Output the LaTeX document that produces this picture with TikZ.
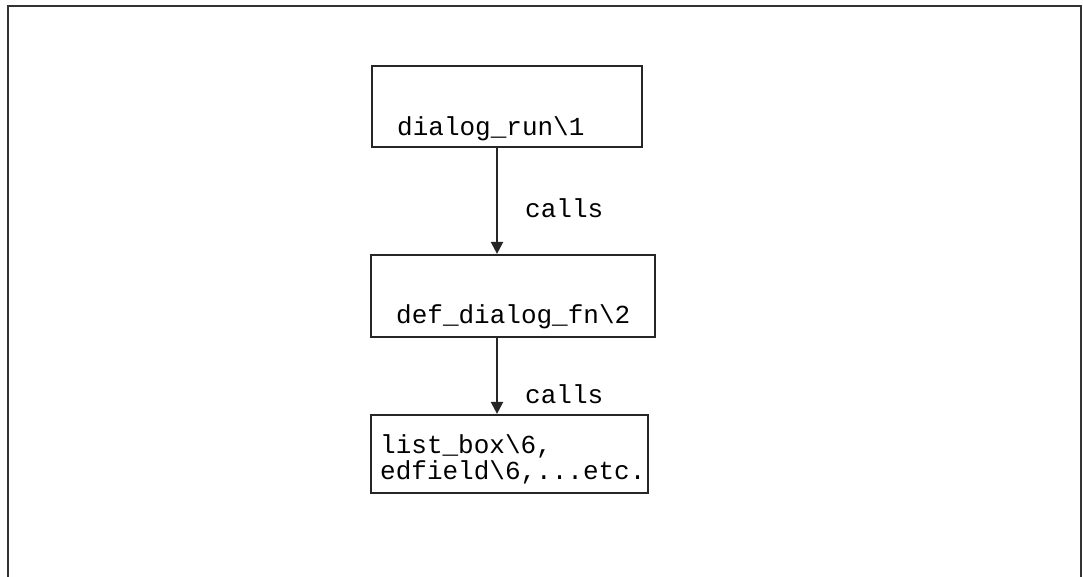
\documentclass[tikz,border=0pt]{standalone}
\usepackage{fontspec}
\setmonofont{Liberation Mono}
\usetikzlibrary{arrows.meta}
\begin{document}
\begin{tikzpicture}[x=1pt,y=-1pt,
  box/.style={draw=black!85,line width=2.2pt,minimum width=#1,inner sep=0pt},
  lbl/.style={anchor=base west,inner sep=0pt,font=\ttfamily\fontsize{26}{26}\selectfont},
  arr/.style={draw=black!85,line width=2.2pt,-{Triangle[length=12pt,width=12pt]}}]
\useasboundingbox (0,0) rectangle (1083,576);
% open outer frame
\draw[black!80,line width=2.4pt] (8,580) -- (8,6) -- (1081,6) -- (1081,580);
% boxes
\node[box=270pt,minimum height=81pt] (b1) at (507,106.5) {};
\node[box=284pt,minimum height=82pt] (b2) at (513,296) {};
\node[box=277pt,minimum height=78pt] (b3) at (509.5,454) {};
% box texts
\node[lbl] (t1) at (397,135) {dialog\_run\textbackslash1};
\node[lbl] (t2) at (396,323) {def\_dialog\_fn\textbackslash2};
\node[lbl] (t3a) at (380,453) {list\_box\textbackslash6,};
\node[lbl] (t3b) at (380,479) {edfield\textbackslash6,...etc.};
% connectors
\coordinate (ax) at (497,0);
\draw[arr] (b1.south -| ax) -- (b2.north -| ax);
\draw[arr] (b2.south -| ax) -- (b3.north -| ax);
\node[lbl] (c1) at (525,217) {calls};
\node[lbl] (c2) at (525,403) {calls};
\end{tikzpicture}
\end{document}
